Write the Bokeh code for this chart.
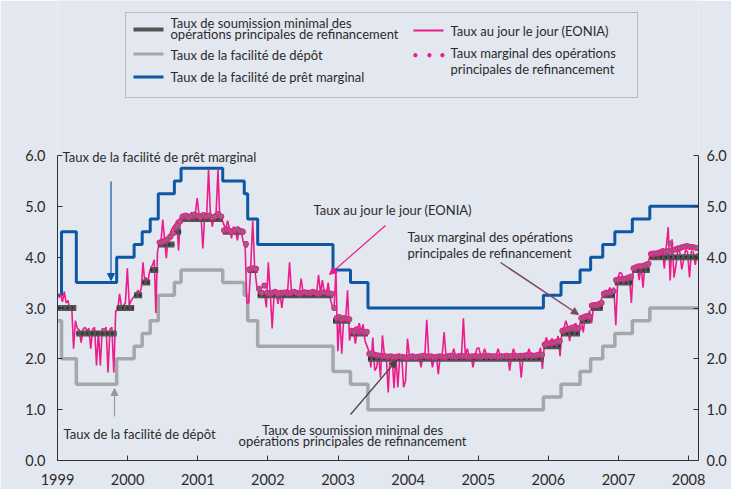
import pandas as pd
from bokeh.plotting import figure
from bokeh.models import (Range1d, LinearAxis, FixedTicker, PrintfTickFormatter,
                          Label, Arrow, NormalHead, BoxAnnotation, ColumnDataSource)
from bokeh.embed import file_html
from bokeh.resources import INLINE

# ---------------- data ----------------
CHANGE_DATES = ["1999-01-04", "1999-01-22", "1999-04-09", "1999-11-05", "2000-02-04",
                "2000-03-17", "2000-04-28", "2000-06-09", "2000-09-01", "2000-10-06",
                "2001-05-11", "2001-08-31", "2001-09-18", "2001-11-09", "2002-12-06",
                "2003-03-07", "2003-06-06", "2005-12-06", "2006-03-08", "2006-06-15",
                "2006-08-09", "2006-10-11", "2006-12-13", "2007-03-14", "2007-06-13"]
END_DATE = "2008-02-20"

DEPOSIT = [2.75, 2.00, 1.50, 2.00, 2.25, 2.50, 2.75, 3.25, 3.50, 3.75, 3.50, 3.25, 2.75,
           2.25, 1.75, 1.50, 1.00, 1.25, 1.50, 1.75, 2.00, 2.25, 2.50, 2.75, 3.00]
LENDING = [3.25, 4.50, 3.50, 4.00, 4.25, 4.50, 4.75, 5.25, 5.50, 5.75, 5.50, 5.25, 4.75,
           4.25, 3.75, 3.50, 3.00, 3.25, 3.50, 3.75, 4.00, 4.25, 4.50, 4.75, 5.00]
MRO = [3.00, 3.00, 2.50, 3.00, 3.25, 3.50, 3.75, 4.25, 4.50, 4.75, 4.50, 4.25, 3.75,
       3.25, 2.75, 2.50, 2.00, 2.25, 2.50, 2.75, 3.00, 3.25, 3.50, 3.75, 4.00]

# EONIA readings, one list per rate period (period k runs from CHANGE_DATES[k] to the next date)
EONIA = [
    [3.20, 3.28],
    [3.12, 3.32, 3.10, 3.15, 2.95, 3.05, 2.20, 2.75],
    [2.60, 2.57, 2.32, 2.58, 2.62, 2.55, 2.60, 2.20, 2.58, 2.62, 1.87, 2.55, 1.87, 2.60,
     2.57, 2.62, 1.73, 2.58, 2.62, 1.73, 2.95],
    [2.95, 3.28, 3.02, 3.05, 3.10, 3.78, 3.05, 3.15, 3.20],
    [3.25, 3.30, 3.35, 3.28, 3.40],
    [3.90, 3.55, 3.60, 3.50, 3.70],
    [3.80, 3.85, 3.95, 2.90, 4.10],
    [4.28, 4.30, 4.74, 4.35, 3.98, 4.40, 4.45, 4.55, 4.60],
    [4.65, 4.72, 4.13, 4.78],
    [4.82, 4.85, 4.80, 4.86, 4.82, 4.88, 4.80, 4.85, 5.16, 4.82, 4.86, 4.17, 4.84, 4.80,
     5.72, 4.85, 4.60, 4.83, 4.88, 5.72, 4.70, 4.75],
    [4.65, 4.55, 4.72, 4.55, 4.37, 4.60, 4.52, 4.33, 4.55, 4.50, 4.30],
    [4.25, 3.10],
    [3.10, 3.80, 4.72, 3.78, 3.45],
    [3.30, 3.28, 3.32, 3.30, 3.01, 3.90, 3.30, 2.60, 3.28, 3.32, 3.08, 3.30, 3.00, 3.33,
     3.30, 3.32, 3.90, 3.30, 3.28, 3.33, 3.30, 3.28, 3.58, 3.30, 3.32, 3.28, 3.35, 3.30,
     3.30, 3.33, 3.28, 3.65, 3.30, 3.55, 3.30, 3.25, 3.50, 3.20, 3.05],
    [2.95, 3.72, 2.15, 2.85, 2.10, 2.80, 2.78, 3.35, 2.36],
    [2.55, 2.58, 2.30, 2.55, 2.70, 2.52, 2.68, 2.35, 2.25],
    [2.15, 1.83, 2.42, 1.77, 1.83, 2.10, 1.63, 2.46, 2.08, 2.06, 1.34, 2.06, 2.07, 1.42,
     2.06, 1.44, 2.06, 2.05, 1.44, 1.57, 2.40, 2.06, 2.05, 2.06, 2.05, 2.07, 2.05, 1.83,
     2.06, 2.06, 2.77, 2.05, 2.06, 1.83, 2.06, 2.05, 1.70, 2.06, 2.07, 2.52, 2.06, 2.05,
     2.06, 2.06, 2.20, 2.05, 2.06, 2.06, 2.05, 2.80, 2.06, 2.20, 2.06, 2.05, 1.83, 2.06,
     2.20, 2.22, 2.06, 2.06, 2.20, 2.07, 2.06, 2.06, 2.05, 2.07, 2.06, 2.20, 2.07, 2.06,
     2.06, 2.05, 2.07, 1.77, 2.06, 2.20, 2.06, 2.07, 2.06, 1.63, 2.06, 2.07, 2.06, 2.20,
     2.08, 2.06, 2.07, 2.08, 2.08, 2.22, 1.80],
    [2.28, 2.42, 2.30, 2.35, 2.40, 2.30, 2.32, 2.45, 2.05],
    [2.58, 2.60, 2.75, 2.62, 2.35, 2.60, 2.58, 2.70, 2.65, 2.62],
    [2.78, 2.52, 2.85, 2.80, 2.95],
    [2.70, 3.05, 3.10, 3.08, 3.05, 3.20],
    [3.28, 3.35, 3.30, 3.40, 3.32, 3.40],
    [2.66, 3.58, 3.70, 3.68, 3.55, 3.60, 3.58, 3.62, 3.10],
    [3.80, 3.82, 3.85, 3.55, 3.82, 3.40, 3.85, 3.80, 3.95],
    [4.08, 4.10, 4.07, 3.97, 4.10, 4.12, 4.15, 3.78, 4.20, 4.59, 3.54, 4.35, 3.60, 3.84,
     4.15, 4.10, 3.76, 3.95, 4.15, 4.10, 3.60, 4.12, 4.10, 3.85, 4.08],
]

# Marginal allotment rates of the main refinancing operations, one list per rate period
MARGINAL = [
    [], [], [], [], [], [], [],
    [4.29, 4.30, 4.32, 4.35, 4.40, 4.47],
    [4.58, 4.62, 4.70],
    [4.80, 4.82, 4.78, 4.80, 4.84, 4.81, 4.79, 4.83, 4.80, 4.82, 4.78, 4.80, 4.85, 4.80],
    [4.53, 4.55, 4.52, 4.50, 4.53, 4.55, 4.52, 4.50],
    [4.26],
    [3.76, 3.78, 3.77],
    [3.38, 3.30, 3.44, 3.30, 3.28, 3.30, 3.32, 3.28, 3.30, 3.30, 3.31, 3.29, 3.30, 3.32,
     3.30, 3.28, 3.30, 3.31, 3.30, 3.29, 3.32, 3.30, 3.28, 3.30, 3.31, 3.30, 3.29, 3.28],
    [3.00, 2.80, 2.82, 2.78, 2.80, 2.79, 2.78],
    [2.55, 2.53, 2.58, 2.53, 2.55, 2.52, 2.53],
    [2.10, 2.11, 2.08, 2.07, 2.06, 2.05, 2.05, 2.04, 2.05, 2.03, 2.04, 2.05, 2.04, 2.03,
     2.02, 2.04, 2.05, 2.03, 2.04, 2.05, 2.06, 2.05, 2.04, 2.05, 2.03, 2.04, 2.05, 2.04,
     2.03, 2.05, 2.06, 2.05, 2.04, 2.05, 2.06, 2.05, 2.05, 2.04, 2.05, 2.05, 2.05, 2.04,
     2.05, 2.05, 2.06, 2.05, 2.05, 2.05, 2.04, 2.05, 2.05, 2.06, 2.05, 2.05, 2.06, 2.05,
     2.06, 2.06, 2.07, 2.06, 2.07, 2.06, 2.07, 2.08, 2.08],
    [2.28, 2.30, 2.30, 2.31, 2.32, 2.34, 2.35],
    [2.55, 2.57, 2.58, 2.60, 2.62, 2.59, 2.60],
    [2.80, 2.82, 2.84, 2.83],
    [3.05, 3.06, 3.05, 3.08, 3.10],
    [3.28, 3.30, 3.30, 3.32, 3.33],
    [3.55, 3.56, 3.57, 3.57, 3.58, 3.60, 3.62],
    [3.78, 3.80, 3.82, 3.82, 3.83, 3.85, 3.87],
    [4.06, 4.07, 4.07, 4.08, 4.10, 4.12, 4.10, 4.12, 4.27, 4.14, 4.15, 4.17, 4.18, 4.20,
     4.21, 4.22, 4.20, 4.20, 4.19, 4.18],
]

YEAR_TICKS = [1999, 2000, 2001, 2002, 2003, 2004, 2005, 2006, 2007, 2008]
Y_TICKS = [0, 1, 2, 3, 4, 5, 6]

# ---------------- styles ----------------
BG = "#e3e7f0"
BLUE = "#0d57a3"
GREY = "#a7a7a9"
DARK = "#545456"
PINK = "#ec1c8c"
MAUVE = "#7a4a66"
TXT = "#2b2b2b"
FONT = "Lato"
TXT_SIZE = "13px"


def dy(s):
    d = pd.Timestamp(s)
    return d.year + (d.dayofyear - 1) / (366 if d.is_leap_year else 365)


xs = [dy(d) for d in CHANGE_DATES] + [dy(END_DATE)]

W, H = 731, 489
ML, MR, MB = 57, 33, 29
FL, FB = ML, H - MB          # frame left / bottom in page pixels
PX_PER_UNIT = 305 / 6.0       # 6.0 sits 305 px above 0.0
Y_TOP = FB / PX_PER_UNIT      # frame reaches the top of the canvas (room for legend)
X_END = 1999 + (W - MR - ML) / 70.125


def sx(px):
    return px - FL


def sy(py):
    return FB - py


def rx(px):
    return 1999 + (px - 57) / 70.125


def ry(py):
    return (FB - py) / PX_PER_UNIT


p = figure(width=W, height=H, x_range=Range1d(1999.0, X_END), y_range=Range1d(0, Y_TOP),
           output_backend="svg", toolbar_location=None,
           min_border_left=ML, min_border_right=MR, min_border_top=0, min_border_bottom=MB,
           background_fill_color=BG, border_fill_color=BG, outline_line_color=None)
p.grid.visible = False


def style_axis(ax, standoff):
    ax.axis_line_color = "#333333"
    ax.major_tick_line_color = "#333333"
    ax.major_tick_out = 0
    ax.major_tick_in = 5
    ax.minor_tick_line_color = None
    ax.major_label_text_font = FONT
    ax.major_label_text_font_size = "14.5px"
    ax.major_label_text_color = TXT
    ax.major_label_standoff = standoff


style_axis(p.xaxis[0], 13)
p.xaxis.ticker = FixedTicker(ticks=YEAR_TICKS)
p.xaxis.formatter = PrintfTickFormatter(format="%d")

style_axis(p.yaxis[0], 12)
p.yaxis.ticker = FixedTicker(ticks=Y_TICKS)
p.yaxis.formatter = PrintfTickFormatter(format="%.1f")
p.yaxis.bounds = (0, 6)

ra = LinearAxis(ticker=FixedTicker(ticks=Y_TICKS), formatter=PrintfTickFormatter(format="%.1f"))
style_axis(ra, 8)
ra.bounds = (0, 6)
p.add_layout(ra, "right")

# step lines
p.step(xs, DEPOSIT + [DEPOSIT[-1]], mode="after", line_color=GREY, line_width=3.5)
p.step(xs, LENDING + [LENDING[-1]], mode="after", line_color=BLUE, line_width=3)

# EONIA
ex, ey = [], []
for k, vals in enumerate(EONIA):
    a, b = xs[k], xs[k + 1]
    n = len(vals)
    for i, v in enumerate(vals):
        ex.append(a + (i + 0.5) * (b - a) / n)
        ey.append(v)
p.line(ex, ey, line_color=PINK, line_width=1.6)

# MRO minimum bid rate bars
mro_src = ColumnDataSource(dict(x0=xs[:-1], x1=xs[1:], y=MRO))
p.segment(x0="x0", y0="y", x1="x1", y1="y", source=mro_src, line_color=DARK, line_width=6)
p.segment(x0="x0", y0="y", x1="x1", y1="y", source=mro_src, line_color="#2f2f2f",
          line_width=2.5, line_dash="2 3")

# marginal rates
mx, my = [], []
for k, vals in enumerate(MARGINAL):
    a, b = xs[k], xs[k + 1]
    n = len(vals)
    for i, v in enumerate(vals):
        mx.append(a + (i + 0.5) * (b - a) / n)
        my.append(v)
p.scatter(mx, my, size=5, fill_color="#7d7478", line_color=PINK, line_width=1.1)


def lab(text, px, py, align="left", color=TXT, size=TXT_SIZE):
    p.add_layout(Label(x=sx(px), y=sy(py), x_units="screen", y_units="screen", text=text,
                       text_font=FONT, text_font_size=size, text_color=color,
                       text_align=align, text_baseline="middle"))


def box(l, r, t, b, color):
    p.add_layout(BoxAnnotation(left=sx(l), right=sx(r), top=sy(t), bottom=sy(b),
                               left_units="screen", right_units="screen",
                               top_units="screen", bottom_units="screen",
                               fill_color=color, fill_alpha=1, line_color=None))


def arrow(x0, y0, x1, y1, color, w=1.2):
    p.add_layout(Arrow(x_start=rx(x0), y_start=ry(y0), x_end=rx(x1), y_end=ry(y1),
                       line_color=color, line_width=w,
                       end=NormalHead(size=7, fill_color=color, line_color=color)))


# legend
p.add_layout(BoxAnnotation(left=sx(125), right=sx(637), top=sy(12), bottom=sy(97),
                           left_units="screen", right_units="screen",
                           top_units="screen", bottom_units="screen",
                           fill_alpha=0, line_color="#555555", line_width=1))
box(133, 163, 27, 31, DARK)
box(133, 163, 52, 55, GREY)
box(133, 163, 75, 78, BLUE)
box(413, 443, 29, 31, PINK)
for dxp in (415, 429, 442):
    lab("•", dxp, 54, align="center", color=PINK, size="11px")
lab("Taux de soumission minimal des", 170, 22)
lab("opérations principales de refinancement", 170, 33)
lab("Taux de la facilité de dépôt", 170, 54)
lab("Taux de la facilité de prêt marginal", 170, 76)
lab("Taux au jour le jour (EONIA)", 450, 30)
lab("Taux marginal des opérations", 450, 52)
lab("principales de refinancement", 450, 68)

# annotations in the chart
lab("Taux de la facilité de prêt marginal", 62, 156)
lab("Taux au jour le jour (EONIA)", 313, 209)
lab("Taux marginal des opérations", 407, 236)
lab("principales de refinancement", 407, 252)
lab("Taux de soumission minimal des", 352, 429, align="center")
lab("opérations principales de refinancement", 352, 440, align="center")
lab("Taux de la facilité de dépôt", 63, 433)

arrow(110.5, 181, 110.5, 280, BLUE)
arrow(385, 225, 329, 274, PINK)
arrow(500, 262, 578, 314, MAUVE, 1.5)
arrow(350, 414, 396, 360, "#444444")
arrow(114, 416, 114, 388, "#999999")

open("out.html", "w").write(file_html(p, INLINE))
